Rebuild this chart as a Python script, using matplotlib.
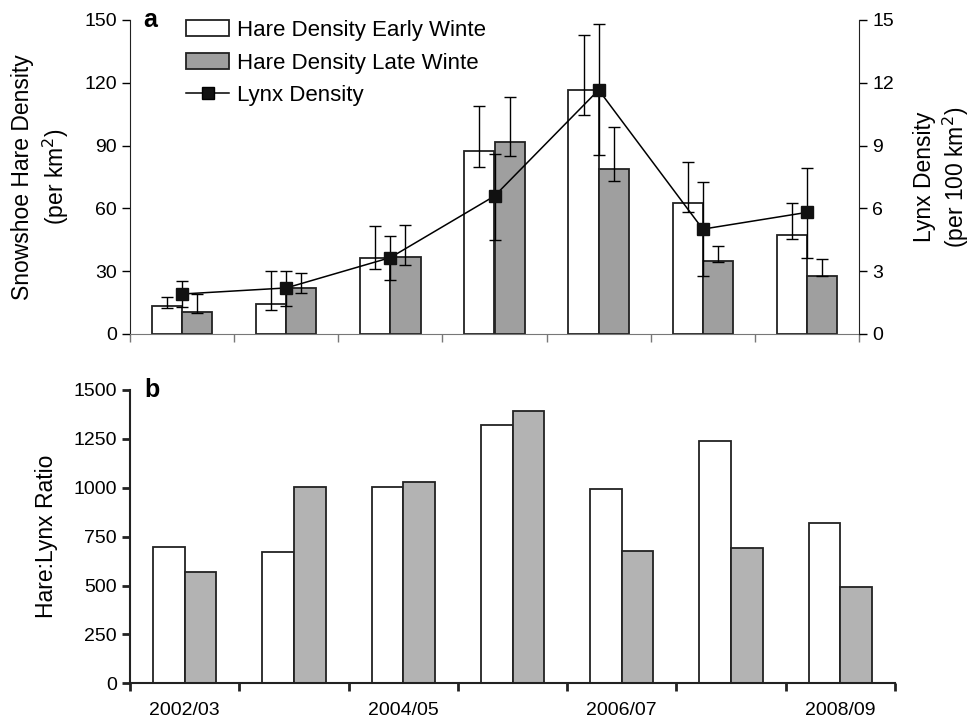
import matplotlib
matplotlib.use("Agg")
import matplotlib.pyplot as plt
import numpy as np
from matplotlib.patches import Patch
from matplotlib.lines import Line2D

plt.rcParams['font.family'] = ['Liberation Sans', 'DejaVu Sans']

# ---------------- data ----------------
seasons = ["2002/03", "2003/04", "2004/05", "2005/06", "2006/07", "2007/08", "2008/09"]
tick_labels = ["2002/03", "", "2004/05", "", "2006/07", "", "2008/09"]

hare_early = [13.4, 14.4, 36.4, 87.3, 116.6, 62.6, 47.1]
hare_early_hi = [17.9, 30.2, 51.5, 109.1, 142.6, 82.2, 62.4]
hare_early_lo = [12.4, 11.5, 31.0, 79.9, 104.7, 58.1, 45.2]

hare_late = [10.4, 21.9, 37.0, 91.8, 78.7, 34.8, 27.9]
hare_late_hi = [19.1, 29.0, 52.2, 113.0, 98.9, 42.0, 35.9]
hare_late_lo = [9.9, 19.5, 33.0, 85.0, 73.1, 34.3, 27.6]

lynx = [1.91, 2.20, 3.65, 6.59, 11.66, 5.01, 5.81]
lynx_hi = [2.51, 3.02, 4.66, 8.58, 14.81, 7.24, 7.91]
lynx_lo = [1.28, 1.32, 2.59, 4.50, 8.54, 2.79, 3.62]

ratio_early = [699, 673, 1004, 1323, 995, 1239, 822]
ratio_late = [571, 1004, 1028, 1394, 675, 692, 493]

# ---------------- figure ----------------
fig = plt.figure(figsize=(9.77, 7.21), dpi=100)
axA = fig.add_axes([130/977, 1-334/721, (859-130)/977, (334-20)/721])
axB = fig.add_axes([130/977, 1-683.3/721, (895-130)/977, (683.3-390)/721])

x = np.arange(len(seasons))
w = 0.29
gray_a = "#9f9f9f"
gray_b = "#b3b3b3"
edge = "#222222"

def yerr(v, lo, hi):
    return np.array([np.array(v) - np.array(lo), np.array(hi) - np.array(v)])

# ---- panel a ----
axA.bar(x - w/2, hare_early, w, color="white", edgecolor=edge, linewidth=1.3, zorder=2)
axA.bar(x + w/2, hare_late, w, color=gray_a, edgecolor=edge, linewidth=1.3, zorder=2)
axA.errorbar(x - w/2, hare_early, yerr=yerr(hare_early, hare_early_lo, hare_early_hi),
             fmt="none", ecolor="black", elinewidth=1, capsize=4, capthick=1, zorder=3)
axA.errorbar(x + w/2, hare_late, yerr=yerr(hare_late, hare_late_lo, hare_late_hi),
             fmt="none", ecolor="black", elinewidth=1, capsize=4, capthick=1, zorder=3)
axA.set_xlim(-0.5, 6.5)
axA.set_ylim(0, 150)
axA.set_yticks(np.arange(0, 151, 30))
axA.set_xticks(np.arange(-0.5, 6.6, 1))
axA.set_xticklabels([])
axA.tick_params(axis="x", direction="out", length=6, width=1, color="#777777")
axA.tick_params(axis="y", direction="out", length=6, width=1, labelsize=14)
axA.spines["top"].set_visible(False)
axA.spines["right"].set_visible(False)
axA.spines["bottom"].set_color("#777777")
axA.spines["left"].set_color("#222222")

axA2 = axA.twinx()
axA2.set_ylim(0, 15)
axA2.set_yticks(np.arange(0, 16, 3))
axA2.errorbar(x, lynx, yerr=yerr(lynx, lynx_lo, lynx_hi), fmt="none", ecolor="black",
              elinewidth=1, capsize=4, capthick=1, zorder=3)
axA2.plot(x, lynx, color="black", linewidth=1.1, marker="s", markersize=8,
          markerfacecolor="#111111", markeredgecolor="#111111", zorder=4)
axA2.tick_params(axis="y", direction="out", length=6, width=1, labelsize=14)
axA2.spines["top"].set_visible(False)
axA2.spines["left"].set_visible(False)
axA2.spines["bottom"].set_visible(False)
axA2.spines["right"].set_color("#222222")

handles = [Patch(facecolor="white", edgecolor=edge, linewidth=1.3),
           Patch(facecolor=gray_a, edgecolor=edge, linewidth=1.3),
           Line2D([], [], color="black", linewidth=1.1, marker="s", markersize=8,
                  markerfacecolor="#111111")]
labels = ["Hare Density Early Winte", "Hare Density Late Winte", "Lynx Density"]
fig.legend(handles, labels, loc="upper left", bbox_to_anchor=(186/977, 1-20/721),
           frameon=False, fontsize=16, handlelength=1.95, handletextpad=0.35,
           labelspacing=0.52, borderpad=0, borderaxespad=0)

fig.text(143/977, 1-20/721, "a", fontsize=18, fontweight="bold", ha="left", va="center")

fig.text(23/977, 1-177/721, "Snowshoe Hare Density", rotation=90, fontsize=16.5,
         ha="center", va="center")
fig.text(56/977, 1-177/721, "(per km$^2$)", rotation=90, fontsize=16.5,
         ha="center", va="center")
fig.text(924/977, 1-177/721, "Lynx Density", rotation=90, fontsize=16.5,
         ha="center", va="center")
fig.text(956/977, 1-177/721, "(per 100 km$^2$)", rotation=90, fontsize=16.5,
         ha="center", va="center")

# ---- panel b ----
axB.bar(x - w/2, ratio_early, w, color="white", edgecolor=edge, linewidth=1.3, zorder=2)
axB.bar(x + w/2, ratio_late, w, color=gray_b, edgecolor=edge, linewidth=1.3, zorder=2)
axB.set_xlim(-0.5, 6.5)
axB.set_ylim(0, 1500)
axB.set_yticks(np.arange(0, 1501, 250))
axB.set_xticks(np.arange(-0.5, 6.6, 1))
axB.set_xticklabels([])
axB.set_xticks(x, minor=True)
axB.set_xticklabels(tick_labels, minor=True, fontsize=14)
axB.tick_params(axis="x", which="minor", length=0, pad=13.5)
axB.tick_params(axis="x", which="major", direction="out", length=6, width=2, color="#222222")
axB.tick_params(axis="y", direction="out", length=6, width=2, labelsize=14, color="#222222")
axB.spines["top"].set_visible(False)
axB.spines["right"].set_visible(False)
axB.spines["left"].set_linewidth(1.5)
axB.spines["bottom"].set_linewidth(1.5)
axB.spines["left"].set_color("#222222")
axB.spines["bottom"].set_color("#222222")

fig.text(144/977, 1-390/721, "b", fontsize=18, fontweight="bold", ha="left", va="center")
fig.text(47/977, 1-536/721, "Hare:Lynx Ratio", rotation=90, fontsize=16.5,
         ha="center", va="center")

fig.savefig("out.png", dpi=100)
